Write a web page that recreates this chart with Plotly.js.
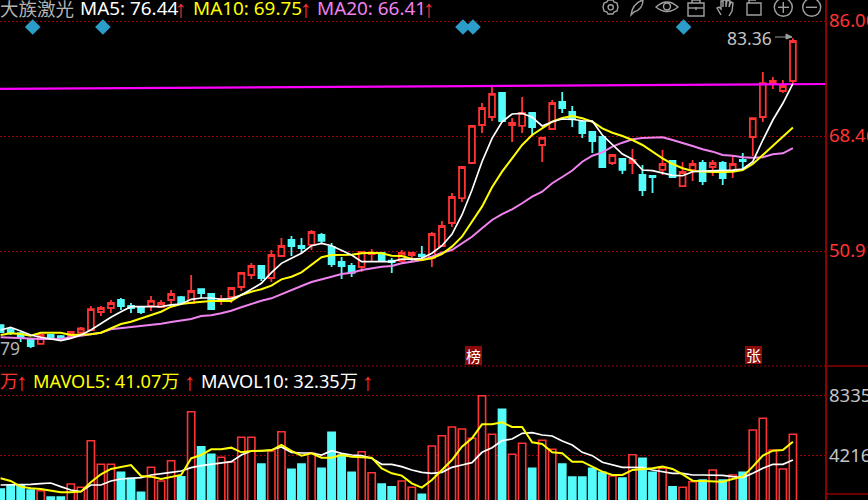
<!DOCTYPE html>
<html><head><meta charset="utf-8">
<script src="https://cdn.plot.ly/plotly-3.0.1.min.js"></script>
<style>html,body{margin:0;padding:0;background:#000;overflow:hidden}#c{width:868px;height:500px}</style>
</head><body><div id="c"></div>
<script>
const open_=[39.63,39.02,38.41,37.42,36.74,38.11,37.95,37.95,38.49,38.87,41.62,42.23,43.45,42.53,42.38,42.53,42.38,43.45,43.90,42.99,45.12,44.36,43.45,43.90,45.43,47.26,48.63,46.80,50.16,52.60,51.68,51.84,53.36,51.53,49.24,48.63,48.48,50.46,50.62,49.44,49.40,50.31,50.35,49.85,51.68,55.19,59.00,64.34,70.14,71.36,75.02,70.14,69.99,71.97,67.09,69.53,73.65,72.12,70.60,69.07,68.31,64.34,64.95,64.34,62.51,62.36,63.28,64.65,60.83,63.28,64.34,63.73,64.34,63.12,64.80,68.31,71.36,76.54,75.32,76.85];
const high=[39.63,39.33,38.57,37.50,38.26,38.26,38.11,38.72,39.33,42.53,42.53,43.45,43.75,42.99,42.38,44.06,43.45,44.97,44.06,47.26,45.12,44.36,44.21,45.43,47.72,49.09,48.63,51.07,52.90,53.21,52.90,54.12,53.67,52.14,50.00,49.09,50.92,51.23,50.62,49.85,51.07,50.62,51.68,53.82,55.50,59.77,63.88,70.14,73.49,75.93,75.17,71.20,74.41,72.12,68.16,73.95,75.17,73.04,70.90,69.07,68.31,65.56,64.95,66.48,64.04,62.51,66.33,64.80,64.49,64.80,64.80,64.80,64.65,65.41,65.87,71.20,78.22,77.46,77.00,83.36];
const low=[38.41,38.11,37.04,36.13,36.74,37.50,37.50,37.80,38.11,38.72,41.01,41.46,41.92,41.46,41.31,41.77,42.23,42.84,42.84,42.84,43.75,41.92,42.68,42.99,44.82,46.65,46.35,46.19,50.00,50.16,50.62,51.07,52.14,48.48,46.65,46.96,47.72,49.24,49.24,47.57,49.24,49.24,49.55,48.48,51.53,54.58,58.39,64.19,68.92,70.75,70.60,67.55,68.92,68.46,64.49,69.38,71.97,69.83,68.16,65.87,63.58,64.04,62.66,62.66,59.31,59.77,62.51,62.05,60.68,61.60,60.99,62.36,60.99,62.05,63.28,65.41,70.60,75.63,75.02,76.54];
const close_=[38.57,38.41,37.65,36.43,38.11,37.65,37.65,38.57,39.10,42.07,42.23,42.99,42.53,42.23,41.62,43.30,42.99,44.36,42.99,44.82,44.51,42.07,43.60,45.28,47.57,48.63,46.80,50.31,51.68,51.68,51.38,53.82,52.45,48.94,48.63,47.57,50.77,50.62,49.40,49.24,50.62,50.62,50.16,53.51,54.73,59.16,63.73,69.99,72.73,74.87,70.75,70.44,71.97,69.83,68.16,73.49,72.73,71.20,68.92,67.70,63.73,65.56,63.28,64.80,60.22,62.21,64.19,62.21,62.97,64.19,61.60,64.34,62.05,64.19,64.65,71.20,76.54,76.85,76.09,82.95];
const ma5=[38.87,39.28,38.72,38.11,37.76,37.45,37.24,37.60,38.11,38.87,39.89,40.81,41.66,42.43,42.43,42.43,42.43,42.69,42.84,43.55,43.75,43.75,43.55,43.65,44.21,45.08,46.00,47.61,49.04,49.81,50.57,51.73,52.09,51.73,51.07,50.31,49.29,49.29,49.29,49.29,49.70,49.65,49.81,50.57,51.73,53.47,56.41,60.23,64.54,68.11,70.64,71.82,71.92,71.31,69.99,70.64,71.05,71.01,70.79,70.75,68.61,67.09,65.71,64.91,63.27,63.17,62.86,62.47,62.40,63.01,63.12,63.17,63.17,63.27,63.43,64.54,67.85,70.90,73.45,76.44];
const ma10=[38.11,38.37,38.26,38.00,38.46,38.46,38.46,38.11,38.11,38.21,38.46,39.13,39.79,40.14,40.66,41.16,41.66,42.43,42.84,43.04,43.19,43.30,43.30,43.30,44.21,44.71,45.08,45.63,46.60,47.00,47.67,48.79,49.96,50.31,50.31,50.36,50.57,50.66,50.57,50.20,50.16,49.70,49.55,49.81,50.46,51.58,53.10,55.39,57.68,60.64,63.02,65.06,67.09,68.61,69.63,70.64,71.20,71.51,71.16,70.64,69.63,68.96,68.46,67.85,67.09,66.07,65.06,64.19,63.54,63.12,63.02,62.97,62.97,63.02,63.27,64.19,65.56,66.94,68.35,69.75];
const ma20=[37.76,37.70,37.55,37.55,37.50,37.55,37.50,37.76,37.96,38.21,38.46,38.98,39.13,39.28,39.48,39.68,39.83,40.09,40.29,40.55,41.00,41.11,41.42,41.81,42.33,42.84,43.34,43.70,44.36,44.97,45.58,46.19,46.65,47.00,47.41,47.61,48.02,48.28,48.53,48.63,49.04,49.29,49.55,50.05,50.66,51.07,52.09,53.10,54.38,55.65,56.56,57.28,58.20,59.20,59.97,61.25,62.21,63.20,64.54,65.45,65.97,66.83,67.44,67.96,68.16,68.26,68.26,67.85,67.44,66.94,66.43,66.07,65.56,65.45,65.21,65.15,65.21,65.67,65.82,66.60];
const volume=[1922,2149,2197,1854,1806,1373,1373,2265,2039,5238,3618,3618,3069,2657,1696,3412,2471,3865,2767,7229,4826,4304,4098,3776,5471,5471,3638,4531,5856,3275,3638,4373,3343,5815,4256,3069,4483,3041,2265,2080,2471,2039,1558,4874,5581,6179,6041,5403,8327,5677,7394,4304,5060,3343,5266,4648,3638,2746,2746,3343,3069,2815,2677,4277,4030,3069,3343,2080,2039,2423,2540,3227,2540,2883,3069,5973,6776,4600,3295,5677];
const mavol5=[2656,2473,2084,1970,1924,1786,1695,1695,1741,2381,2930,3296,3457,3571,2816,2770,2610,2770,2885,4029,4257,4646,4646,4761,4440,4532,4532,4578,4944,4532,4212,4372,4074,4074,4257,4143,4097,4074,3342,3000,2839,2313,2015,2541,3228,3914,4829,5401,6362,6362,6500,6179,6179,5127,5012,4440,4372,3800,3800,3457,3113,2885,2885,3228,3274,3342,3457,3296,2930,2496,2473,2427,2427,2610,2770,3457,4212,4555,4601,5173];
const mavol10=[2198,2198,2198,2244,2290,2335,2084,1855,1741,2198,2198,2473,2610,2656,2702,2885,3000,3068,3159,3388,3525,3617,3685,3800,4257,4532,4532,4601,4807,4440,4395,4395,4257,4555,4372,4257,4212,4029,3617,3617,3457,3228,3068,3000,3068,3411,3571,3731,4440,4761,5241,5356,5745,5790,5630,5562,5218,4944,4440,4212,3754,3571,3411,3411,3388,3228,3113,3000,3000,2885,2885,2885,2862,2770,2702,3000,3342,3617,3617,3914];
const trendX=[-1,82.3];
const trendY=[75.63,76.39];
const signalX=[3.2,10.2,46.1,47.1,68.1];
const signalY=[85.08,85.08,85.08,85.08,85.08];
const priceTicks=[86,68.46,50.92];
const priceLabels=['86.00','68.46','50.91'];
const volTicks=[8335,4216];
const volLabels=['8335','4216'];

const W=868,H=500,RED='#ff3333',CYAN='#54fbfb',GRID='#a00000',AXIS='#8c0000',ICON='#a0a0a0';
const idx=close_.map((_,i)=>i);
const up=idx.map(i=>close_[i]>=open_[i]);
const px=x=>x/W, py=y=>1-y/H;
const xRange=[-0.06,82.3];
const traces=[
 {type:'bar',x:idx,y:volume,xaxis:'x',yaxis:'y2',width:0.72,base:0,
  marker:{color:up.map(u=>u?'#000':CYAN),line:{color:up.map(u=>u?RED:CYAN),width:1.6}},hoverinfo:'skip'},
 {type:'candlestick',x:idx,open:open_,high:high,low:low,close:close_,xaxis:'x',yaxis:'y',
  increasing:{line:{color:RED,width:1.8},fillcolor:'#000'},
  decreasing:{line:{color:CYAN,width:1.8},fillcolor:CYAN},hoverinfo:'skip'},
 {type:'scatter',mode:'lines',x:trendX,y:trendY,xaxis:'x',yaxis:'y',line:{color:'#ff00ff',width:2.2},hoverinfo:'skip'},
 {type:'scatter',mode:'lines',x:idx,y:ma20,xaxis:'x',yaxis:'y',line:{color:'#ee82ee',width:2},hoverinfo:'skip'},
 {type:'scatter',mode:'lines',x:idx,y:ma10,xaxis:'x',yaxis:'y',line:{color:'#ffff00',width:2},hoverinfo:'skip'},
 {type:'scatter',mode:'lines',x:idx,y:ma5,xaxis:'x',yaxis:'y',line:{color:'#ffffff',width:1.7},hoverinfo:'skip'},
 {type:'scatter',mode:'markers',x:signalX,y:signalY,xaxis:'x',yaxis:'y',marker:{symbol:'diamond',size:12,color:'#2a9dc9'},hoverinfo:'skip'},
 {type:'scatter',mode:'lines',x:idx,y:mavol10,xaxis:'x',yaxis:'y2',line:{color:'#ffffff',width:1.7},hoverinfo:'skip'},
 {type:'scatter',mode:'lines',x:idx,y:mavol5,xaxis:'x',yaxis:'y2',line:{color:'#ffff00',width:2},hoverinfo:'skip'}
];
const FONT='"Noto Sans","Noto Sans CJK SC",sans-serif';
function T(text,x,y,color,size,family){return {text,x:px(x),y:py(y),xref:'paper',yref:'paper',xanchor:'left',yanchor:'middle',showarrow:false,borderpad:0,borderwidth:0,font:{family:family||FONT,size:size||18.9,color}};}
function Arrow(x,y){return T('↑',x,y,RED,24,'"Liberation Sans"');}
const annotations=[
 T('大族激光',0,8,'#b4b4b4',18.5),
 T('MA5: 76.44',80,8,'#ffffff'),Arrow(175,8),
 T('MA10: 69.75',193,8,'#ffff00'),Arrow(300,8),
 T('MA20: 66.41',317,8,'#ee82ee'),Arrow(423,8),
 T('万',0,381,RED,18),Arrow(16,381),
 T('MAVOL5: 41.07万',33,381,'#ffff00',18.2),Arrow(184,381),
 T('MAVOL10: 32.35万',201,381,'#ffffff',18.2),Arrow(362,381),
 T('83.36',727,38,'#c4c4c4',17.5),
 T('79',0,348,'#b4b4b4',17.5),
 T('榜',466,356,'#ffffff',15),
 T('张',746,355,'#ffffff',15)
];
function path(s){let n=0;return s.replace(/-?\d+(\.\d+)?/g,m=>{const v=parseFloat(m);return ((n++%2===0)?px(v):py(v)).toFixed(5);});}
function Ln(x0,y0,x1,y1,color,width,dash){return {type:'line',xref:'paper',yref:'paper',x0:px(x0),y0:py(y0),x1:px(x1),y1:py(y1),line:{color,width,dash:dash||'solid'},layer:'above'};}
function Ic(d,w,fill){return {type:'path',xref:'paper',yref:'paper',path:path(d),line:{color:ICON,width:w||1.4},fillcolor:fill||'rgba(0,0,0,0)',layer:'above'};}
function Circ(cx,cy,r){return {type:'circle',xref:'paper',yref:'paper',x0:px(cx-r),x1:px(cx+r),y0:py(cy+r),y1:py(cy-r),line:{color:ICON,width:1.4},layer:'above'};}
function Box(x0,y0,x1,y1){return {type:'rect',xref:'paper',yref:'paper',x0:px(x0),x1:px(x1),y0:py(y1),y1:py(y0),fillcolor:'#8c0a0a',line:{width:0},layer:'below'};}
const shapes=[
 Ln(826,0,826,500,AXIS,2),
 Ln(0,366,826,366,GRID,1,'2px,2px'),
 Ln(826,366,868,366,AXIS,1.5),
 Ln(826,494,868,494,AXIS,1.5),
 Box(465,346,482,365),Box(745,346,762,364),
 Ln(775,37,790,37,'#9a9a9a',1),
 Ic('M 786 34 L 792 37 L 786 39 Z',1,'#9a9a9a'),
 // toolbar: settings, feather, eye, toolbox, hand, box, zoom in, zoom out
 Ic('M 608 0 L 613 0 L 614 2 L 617 3 L 618 7 L 617 11 L 614 12 L 613 14 L 608 14 L 607 12 L 604 11 L 603 7 L 604 3 L 607 2 Z'),
 Circ(610.7,7.3,2.6),
 Ic('M 631 15 C 632 8 636 2 643 0 C 643 5 640 10 634 12 Z'),
 Ic('M 656 7 Q 667 -3 678 7 Q 667 16 656 7 Z'),
 Circ(667,6.5,3.5),
 Ic('M 688 3 L 704 3 L 704 16 L 688 16 Z'),
 Ic('M 692 3 L 692 0 L 700 0 L 700 3'),
 Ic('M 688 8 L 704 8'),
 Ic('M 696 7 L 696 10'),
 Ic('M 721 15 L 717 8 L 719 7 L 721 9 L 721 1 L 723 1 L 723 7 L 723 0 L 726 0 L 726 7 L 727 0 L 730 1 L 729 7 L 731 2 L 733 3 L 732 11 L 729 16'),
 Ic('M 747 3 L 761 3 L 761 15 L 747 15 Z'),
 Ic('M 749 3 L 749 0 L 756 0'),
 Circ(783.3,7.3,9),Ic('M 778 7.3 L 789 7.3'),Ic('M 783.3 2 L 783.3 13'),
 Circ(811.7,7.3,9),Ic('M 806 7.3 L 817 7.3')
];
const priceAt=y=>89.203-0.15252*y;
const volAt=y=>(517-y)*68.65;
const layout={
 width:W,height:H,margin:{l:0,r:0,t:0,b:0,pad:0},paper_bgcolor:'#000',plot_bgcolor:'#000',
 showlegend:false,hovermode:false,boxgap:0.17,barmode:'overlay',
 font:{family:FONT},
 xaxis:{domain:[0,826/868],range:xRange,visible:false,fixedrange:true,rangeslider:{visible:false},anchor:'y'},
 yaxis:{domain:[1-366/500,1],range:[priceAt(366),priceAt(0)],side:'right',anchor:'x',tickmode:'array',tickvals:priceTicks,ticktext:priceLabels,
  tickfont:{family:FONT,size:18.5,color:RED},ticks:'',ticklen:0,ticklabelstandoff:2,
  showgrid:true,gridcolor:GRID,griddash:'2px,2px',gridwidth:1,zeroline:false,showline:false,fixedrange:true},
 yaxis2:{domain:[0,1-366/500],range:[volAt(500),volAt(366)],side:'right',anchor:'x',tickmode:'array',tickvals:volTicks,ticktext:volLabels,
  tickfont:{family:FONT,size:18.5,color:'#c4c4c4'},ticks:'',ticklen:0,ticklabelstandoff:2,
  showgrid:true,gridcolor:GRID,griddash:'2px,2px',gridwidth:1,zeroline:false,showline:false,fixedrange:true},
 annotations,shapes
};
Plotly.newPlot('c',traces,layout,{staticPlot:true,displayModeBar:false});
</script></body></html>
